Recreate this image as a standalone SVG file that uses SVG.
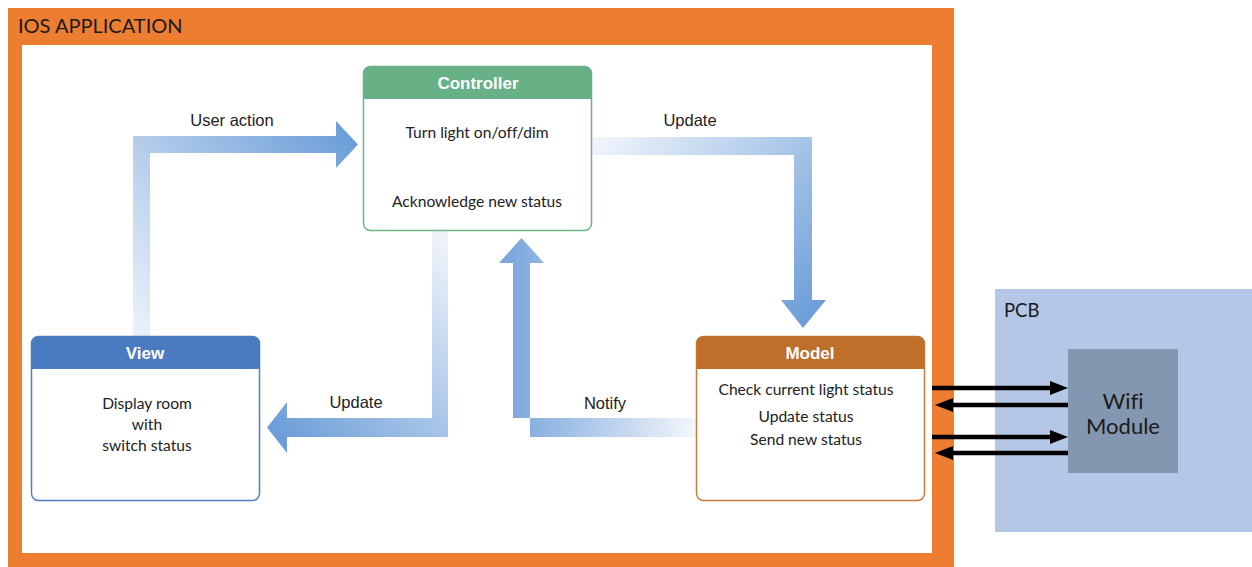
<svg xmlns="http://www.w3.org/2000/svg" width="1252" height="567" viewBox="0 0 1252 567">
<style>
text{font-variant-ligatures:none}
.body{font-family:Lato,"Open Sans",sans-serif;font-size:15.6px;fill:#222;text-anchor:middle}
.hdr{font-family:"Liberation Sans",Arial,sans-serif;font-size:17px;font-weight:bold;fill:#fff;text-anchor:middle}
.lbl{font-family:"Liberation Sans",Arial,sans-serif;font-size:16.5px;fill:#222;text-anchor:middle}
.wire{stroke:#000;stroke-width:4.5;fill:none}
</style>
<defs>
<marker id="head" viewBox="0 0 18 14" refX="4" refY="7" markerWidth="18" markerHeight="14" markerUnits="userSpaceOnUse" orient="auto">
<path d="M0,0 L18,7 L0,14 z" fill="#000"/>
</marker>
<linearGradient id="gUser" gradientUnits="userSpaceOnUse" x1="141" y1="330" x2="358" y2="144">
<stop offset="0" stop-color="#e9f0f9"/><stop offset="1" stop-color="#6b9dd8"/>
</linearGradient>
<linearGradient id="gUpd1" gradientUnits="userSpaceOnUse" x1="600" y1="146" x2="803" y2="328">
<stop offset="0" stop-color="#eef3fa"/><stop offset="1" stop-color="#6b9dd8"/>
</linearGradient>
<linearGradient id="gUpd2" gradientUnits="userSpaceOnUse" x1="440" y1="240" x2="267" y2="427">
<stop offset="0" stop-color="#eef3fa"/><stop offset="1" stop-color="#6b9dd8"/>
</linearGradient>
<linearGradient id="gNot" gradientUnits="userSpaceOnUse" x1="694" y1="0" x2="505" y2="0">
<stop offset="0" stop-color="#f2f6fb"/><stop offset="0.7" stop-color="#9cbce5"/><stop offset="1" stop-color="#7aa6dc"/>
</linearGradient>
</defs>

<g id="ios-app">
<rect x="8" y="8" width="946" height="559" fill="#ed7d31"/>
<rect x="22" y="45" width="910" height="508" fill="#fff"/>
<text x="18" y="33" font-family="Lato,'Open Sans',sans-serif" font-size="20" fill="#1a1a1a">IOS APPLICATION</text>
</g>

<g id="pcb">
<rect x="995" y="289" width="257" height="243" fill="#b4c7e7"/>
<text x="1004" y="317" font-family="Lato,'Open Sans',sans-serif" font-size="18.5" fill="#1a1a1a">PCB</text>
</g>

<g id="wifi">
<rect x="1068" y="349" width="110" height="124" fill="#8497b0"/>
<text x="1123" y="409" font-family="Lato,'Open Sans',sans-serif" font-size="22" fill="#1a1a1a" text-anchor="middle">Wifi</text>
<text x="1123" y="434" font-family="Lato,'Open Sans',sans-serif" font-size="22" fill="#1a1a1a" text-anchor="middle">Module</text>
</g>

<g id="connectors">
<path d="M133,336 L133,136 L336,136 L336,121 L358,144.5 L336,168 L336,153 L150,153 L150,336 Z" fill="url(#gUser)"/>
<text class="lbl" x="232" y="126">User action</text>
<path d="M592,137 L812,137 L812,300 L826,300 L803,328 L781,300 L794,300 L794,155 L592,155 Z" fill="url(#gUpd1)"/>
<text class="lbl" x="690" y="126">Update</text>
<path d="M432,231 L448,231 L448,437 L287,437 L287,453 L267,427.5 L287,402 L287,418 L432,418 Z" fill="url(#gUpd2)"/>
<text class="lbl" x="356" y="408">Update</text>
<path d="M696,418 L696,437 L530,437 L530,263 L544,263 L521.5,238 L499,263 L513,263 L513,418 Z" fill="url(#gNot)"/>
<text class="lbl" x="605" y="409">Notify</text>
<line class="wire" x1="932" y1="388" x2="1054" y2="388" marker-end="url(#head)"/>
<line class="wire" x1="1068" y1="405" x2="949" y2="405" marker-end="url(#head)"/>
<line class="wire" x1="932" y1="437" x2="1054" y2="437" marker-end="url(#head)"/>
<line class="wire" x1="1068" y1="453" x2="949" y2="453" marker-end="url(#head)"/>
</g>

<g id="controller">
<rect x="363.5" y="66.5" width="228" height="164" rx="7" fill="#fff" stroke="#6fb38b" stroke-width="1.5"/>
<path d="M363.5,99 L363.5,73.5 Q363.5,66.5 370.5,66.5 L584.5,66.5 Q591.5,66.5 591.5,73.5 L591.5,99 Z" fill="#68b086"/>
<text class="hdr" x="478" y="89">Controller</text>
<text class="body" x="477" y="138">Turn light on/off/dim</text>
<text class="body" x="477" y="207">Acknowledge new status</text>
</g>

<g id="view">
<rect x="31.5" y="336.5" width="228" height="164" rx="7" fill="#fff" stroke="#4f7fc0" stroke-width="1.5"/>
<path d="M31.5,369 L31.5,343.5 Q31.5,336.5 38.5,336.5 L252.5,336.5 Q259.5,336.5 259.5,343.5 L259.5,369 Z" fill="#4a7bc1"/>
<text class="hdr" x="145" y="359">View</text>
<text class="body" x="147" y="409">Display room</text>
<text class="body" x="147" y="430">with</text>
<text class="body" x="147" y="451">switch status</text>
</g>

<g id="model">
<rect x="696.5" y="336.5" width="228" height="164" rx="7" fill="#fff" stroke="#c97b3c" stroke-width="1.5"/>
<path d="M696.5,369 L696.5,343.5 Q696.5,336.5 703.5,336.5 L917.5,336.5 Q924.5,336.5 924.5,343.5 L924.5,369 Z" fill="#bf6f2a"/>
<text class="hdr" x="810" y="359">Model</text>
<text class="body" x="806" y="395">Check current light status</text>
<text class="body" x="806" y="422">Update status</text>
<text class="body" x="806" y="445">Send new status</text>
</g>
</svg>
